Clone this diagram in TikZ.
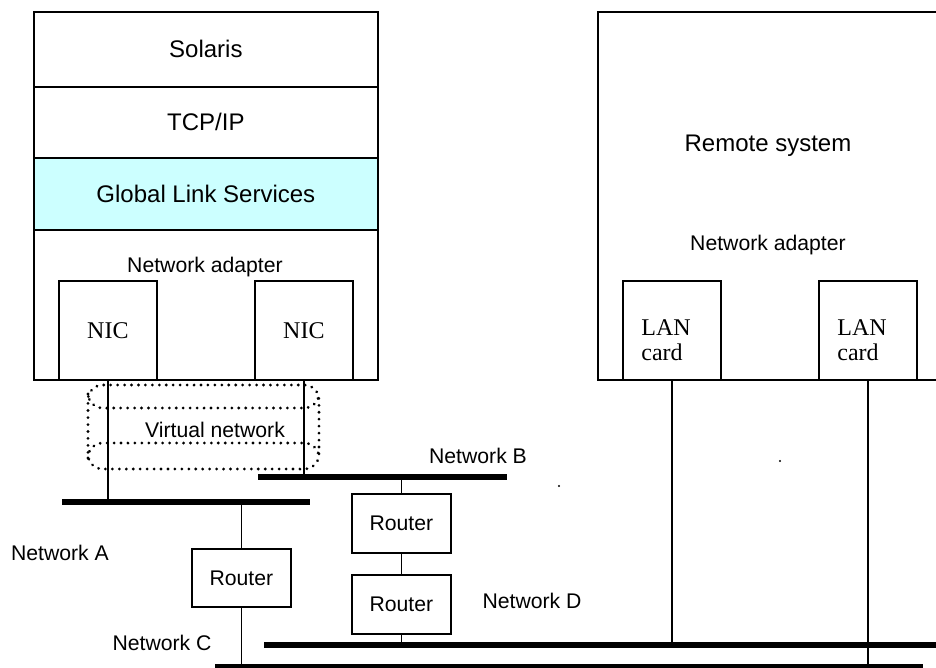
\documentclass[tikz,border=0pt]{standalone}
\usepackage{fontspec}
\setmainfont{Liberation Sans}
\newfontfamily\tms{Liberation Serif}
\definecolor{glscyan}{HTML}{CCFFFF}
\begin{document}
\begin{tikzpicture}[x=0.75pt,y=-0.75pt,
  big/.style={font=\fontsize{18}{21.6}\selectfont},
  small/.style={font=\fontsize{15.9}{19}\selectfont},
  box/.style={draw=black, line width=1.3pt, rectangle, inner sep=0pt, anchor=north west},
  layer/.style={box, minimum width=258pt, big},
  card/.style={box, minimum width=73.5pt, minimum height=74.25pt, font=\tms\fontsize{18}{18.75}\selectfont},
  cardtext/.style={inner sep=0pt, align=left, font=\tms\fontsize{18}{18.75}\selectfont},
  router/.style={box, minimum width=74.25pt, small},
  wire/.style={line width=1.3pt},
  thicknet/.style={line width=4.5pt},
  thinnet/.style={line width=2.3pt},
  vdots/.style={line width=2.3pt, dash pattern=on 0.01pt off 5.2pt, line cap=round},
  lbl/.style={inner sep=0pt, small},
  biglbl/.style={inner sep=0pt, big}]
\useasboundingbox (0,0) rectangle (936,668);

% local host stack
\node[layer, minimum height=56.25pt] (solaris) at (33,11) {Solaris};
\node[layer, minimum height=53.25pt] (tcp) at (33,86) {TCP/IP};
\node[layer, minimum height=54pt, fill=glscyan] (gls) at (33,157) {Global Link Services};
\node[box, minimum width=258pt, minimum height=112.5pt] (host) at (33,229) {};
\node[lbl] (hostna) at (205,267) {Network adapter};
\node[card] (nic1) at (58,280) {NIC};
\node[card] (nic2) at (254,280) {NIC};

% remote system
\node[box, minimum width=264.75pt, minimum height=276pt] (remote) at (597,11) {};
\node[biglbl] (remotet) at (768,146) {Remote system};
\node[lbl] (remna) at (768,245) {Network adapter};
\node[card] (lan1) at (622,280) {};
\node[card] (lan2) at (818,280) {};
\node[cardtext] (lan1t) at (666,340) {LAN\\card};
\node[cardtext] (lan2t) at (862,340) {LAN\\card};

% networks
\coordinate (a1) at (62,502);  \coordinate (a2) at (310,502);
\coordinate (b1) at (258,477); \coordinate (b2) at (507,477);
\coordinate (c1) at (215,666); \coordinate (c2) at (923,666);
\coordinate (d1) at (264,645); \coordinate (d2) at (940,645);
\draw[thicknet] (a1) -- (a2);
\draw[thicknet] (b1) -- (b2);
\draw[thinnet] (c1) -- (c2);
\draw[thicknet] (d1) -- (d2);

% routers
\node[router, minimum height=43.5pt] (r1) at (191,548) {Router};
\node[router, minimum height=44.25pt] (r2) at (351,493) {Router};
\node[router, minimum height=44.25pt] (r3) at (351,574) {Router};

% connectors
\draw[wire] (nic1.south) -- (nic1.south |- a1);
\draw[wire] (nic2.south) -- (nic2.south |- b1);
\draw[wire] (r1.north) -- (r1.north |- a1);
\draw[wire] (r1.south) -- (r1.south |- c1);
\draw[wire] (r2.north) -- (r2.north |- b1);
\draw[wire] (r2.south) -- (r3.north);
\draw[wire] (r3.south) -- (r3.south |- d1);
\draw[wire] (lan1.south) -- (lan1.south |- d1);
\draw[wire] (lan2.south) -- (lan2.south |- c1);

% virtual network
\draw[vdots, rounded corners=11pt] (88,425) -- (88,385) -- (319,385) -- (319,469) -- (88,469) -- cycle;
\draw[vdots, rounded corners=11pt] (88,394) -- (88,408) -- (319,408) -- (319,394);
\draw[vdots, rounded corners=11pt] (88,458) -- (88,443) -- (319,443) -- (319,458);
\node[lbl] (vn) at (215,430) {Virtual network};

% labels
\node[lbl] (na) at (60,553) {Network A};
\node[lbl] (nb) at (478,456) {Network B};
\node[lbl] (nc) at (162,643) {Network C};
\node[lbl] (nd) at (532,601) {Network D};

% stray dots
\fill (559,486) circle (0.8pt);
\fill (780,461) circle (0.8pt);
\end{tikzpicture}
\end{document}
